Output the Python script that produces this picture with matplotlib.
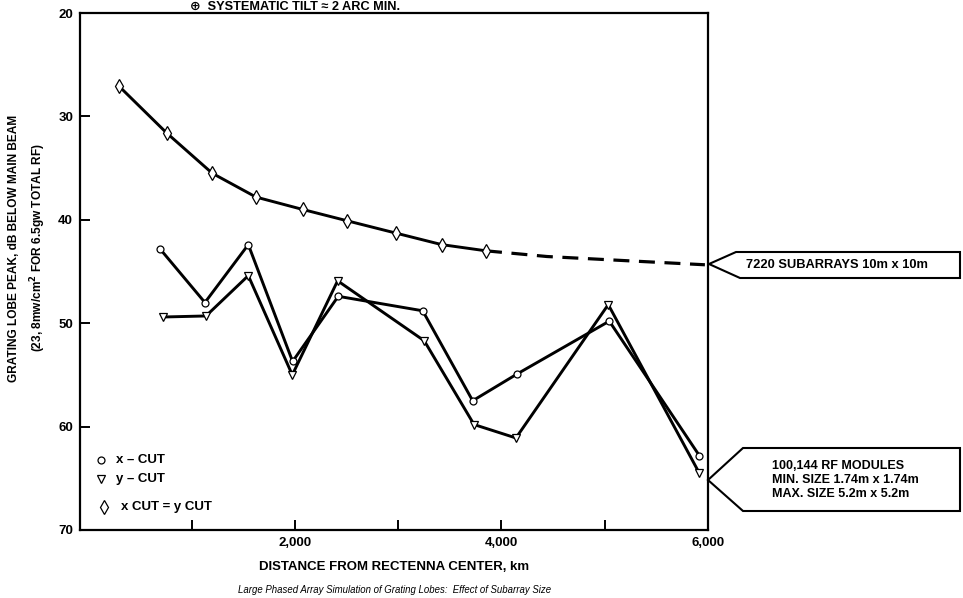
import matplotlib
matplotlib.use("Agg")
import matplotlib.pyplot as plt
from matplotlib.patches import Polygon

plt.rcParams['font.family'] = ['Liberation Sans', 'DejaVu Sans']

# Uniform 10 m x 10 m subarrays (x cut = y cut); dashed part is the extrapolation
dist_uniform = [298, 757, 1199, 1622, 2075, 2507, 2983, 3421, 3850]
lobe_uniform = [27.1, 31.6, 35.5, 37.8, 39.0, 40.1, 41.3, 42.4, 43.0]
dist_extrap = [3850, 4440, 5200, 5970]
lobe_extrap = [43.0, 43.55, 43.95, 44.35]

# Variable-size RF modules
dist_xcut = [692, 1128, 1548, 1977, 2419, 3237, 3721, 4153, 5044, 5916]
lobe_xcut = [42.8, 48.0, 42.4, 53.7, 47.4, 48.8, 57.5, 54.9, 49.8, 62.8]
dist_ycut = [725, 1138, 1548, 1974, 2413, 3252, 3734, 4140, 5034, 5916]
lobe_ycut = [49.4, 49.3, 45.4, 55.0, 45.9, 51.7, 59.8, 61.1, 48.2, 64.5]

x_ticks = [1000, 2000, 3000, 4000, 5000, 6000]
x_tick_labels = ['', '2,000', '', '4,000', '', '6,000']
y_ticks = [20, 30, 40, 50, 60, 70]
y_tick_labels = ['20', '30', '40', '50', '60', '70']

W, H = 963, 598
fig = plt.figure(figsize=(W / 100, H / 100), dpi=100)
fig.patch.set_facecolor('white')


def fx(px):
    return px / W


def fy(py):
    return 1 - py / H


ax = fig.add_axes([fx(80), fy(530), fx(708) - fx(80), fy(13) - fy(530)])
ax.set_xlim(-82, 6000)
ax.set_ylim(70, 20)

lw = 2.1
ax.plot(dist_uniform, lobe_uniform, color='black', lw=lw, marker='d',
        ms=7, mfc='white', mec='black', mew=0.9, zorder=3)
ax.plot(dist_extrap, lobe_extrap, color='black', lw=lw + 0.2, ls=(0, (5, 3)), zorder=2)
ax.plot(dist_xcut, lobe_xcut, color='black', lw=lw, marker='o',
        ms=5, mfc='white', mec='black', mew=0.9, zorder=3)
ax.plot(dist_ycut, lobe_ycut, color='black', lw=lw, marker='v',
        ms=6, mfc='white', mec='black', mew=0.9, zorder=3)

for s in ax.spines.values():
    s.set_linewidth(1.6)
    s.set_color('black')

ax.set_xticks(x_ticks)
ax.set_xticklabels(x_tick_labels, fontsize=9.5, fontweight='bold')
ax.set_yticks(y_ticks)
ax.set_yticklabels(y_tick_labels, fontsize=9.5, fontweight='bold')
ax.tick_params(direction='in', length=7, width=1.4, pad=5)

ax.set_xlabel('DISTANCE FROM RECTENNA CENTER, km', fontsize=9.5,
              fontweight='bold', labelpad=9)

# two-line vertical axis title
fig.text(fx(14), fy(248), 'GRATING LOBE PEAK, dB BELOW MAIN BEAM', rotation=90,
         ha='center', va='center', fontsize=8.6, fontweight='bold')
fig.text(fx(38), fy(248), '(23, 8mw/cm$^{\\mathbf{2}}$ FOR 6.5gw TOTAL RF)', rotation=90,
         ha='center', va='center', fontsize=8.6, fontweight='bold')

# heading at the top edge
fig.text(fx(295), fy(1), '\u2295  SYSTEMATIC TILT \u2248 2 ARC MIN.', ha='center',
         va='top', fontsize=9.2, fontweight='bold')

# caption
fig.text(fx(395), fy(590), 'Large Phased Array Simulation of Grating Lobes:  Effect of Subarray Size',
         ha='center', va='center', fontsize=6.9, style='italic')

# symbol key
key_rows = [
    (101, 460, 'o', 5, 'x \u2013 CUT', 116),
    (101, 479, 'v', 6, 'y \u2013 CUT', 116),
    (104, 507, 'd', 7, 'x CUT = y CUT', 121),
]
for mx, my, mk, ms, label, tx in key_rows:
    fig.lines.append(plt.Line2D([fx(mx)], [fy(my)], transform=fig.transFigure,
                                marker=mk, ms=ms, mfc='white', mec='black', mew=0.9,
                                ls='none'))
    fig.text(fx(tx), fy(my), label, ha='left', va='center',
             fontsize=9.5, fontweight='bold')

# callout flags at the right edge
flag1 = [(709, 264), (736, 252), (960, 252), (960, 278), (740, 278)]
flag2 = [(708, 480), (743, 448), (960, 448), (960, 511), (743, 511)]
for pts in (flag1, flag2):
    fig.patches.append(Polygon([(fx(a), fy(b)) for a, b in pts], closed=True,
                               transform=fig.transFigure, facecolor='white',
                               edgecolor='black', lw=1.5))

fig.text(fx(746), fy(265), '7220 SUBARRAYS 10m x 10m', ha='left', va='center',
         fontsize=9.3, fontweight='bold')
fig.text(fx(772), fy(466), '100,144 RF MODULES', ha='left', va='center',
         fontsize=9, fontweight='bold')
fig.text(fx(772), fy(480), 'MIN. SIZE 1.74m x 1.74m', ha='left', va='center',
         fontsize=9, fontweight='bold')
fig.text(fx(772), fy(494), 'MAX. SIZE 5.2m x 5.2m', ha='left', va='center',
         fontsize=9, fontweight='bold')

fig.savefig('out.png', dpi=100, facecolor='white')
